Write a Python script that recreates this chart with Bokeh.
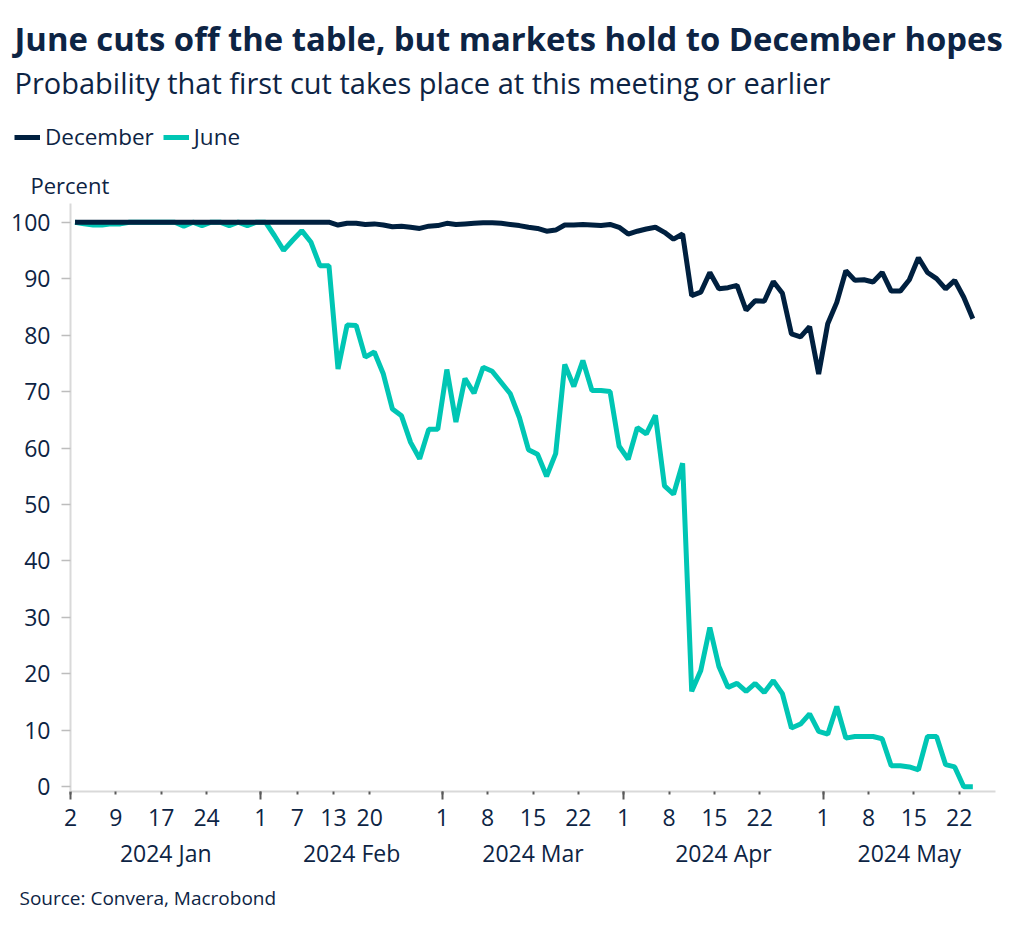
import pandas as pd
from bokeh.plotting import figure
from bokeh.models import Range1d, FixedTicker, LinearAxis, Legend, LegendItem, Label
from bokeh.embed import file_html
from bokeh.resources import INLINE

# ---------------- data ----------------
holidays = ["2024-01-15", "2024-02-19", "2024-03-29"]
trading_days = pd.bdate_range("2024-01-02", "2024-05-23", freq="C", holidays=holidays)

december = [
    100, 100, 100, 100, 100, 100, 100, 100, 100, 100,
    100, 100, 100, 100, 100, 100, 100, 100, 100, 100,
    100, 100, 100, 100, 100, 100, 100, 100, 100, 99.5,
    99.8, 99.8, 99.6, 99.7, 99.5, 99.2, 99.3, 99.1, 98.9, 99.3,
    99.4, 99.8, 99.6, 99.7, 99.8, 99.9, 99.9, 99.8, 99.6, 99.4,
    99.1, 98.9, 98.4, 98.6, 99.5, 99.5, 99.6, 99.5, 99.4, 99.6,
    99.1, 97.9, 98.4, 98.8, 99.1, 98.2, 97.0, 97.9, 87.0, 87.6,
    91.1, 88.2, 88.4, 88.8, 84.4, 86.1, 86.0, 89.5, 87.4, 80.2,
    79.7, 81.5, 73.1, 82.0, 85.8, 91.4, 89.7, 89.8, 89.4, 91.1,
    87.8, 87.8, 89.8, 93.7, 91.1, 90.0, 88.2, 89.7, 86.7, 82.9,
]

june = [
    100, 99.7, 99.5, 99.5, 99.7, 99.7, 100, 100, 100, 100,
    100, 100, 99.3, 100, 99.4, 100, 100, 99.4, 100, 99.4,
    100, 100, 97.6, 95.0, 96.8, 98.5, 96.5, 92.3, 92.3, 74.0,
    81.8, 81.7, 76.1, 77.0, 73.1, 66.9, 65.7, 61.0, 58.1, 63.3,
    63.3, 73.9, 64.6, 72.3, 69.7, 74.3, 73.6, 71.6, 69.6, 65.4,
    59.7, 58.9, 55.0, 59.0, 74.8, 70.9, 75.5, 70.2, 70.2, 70.0,
    60.3, 58.0, 63.6, 62.5, 65.8, 53.3, 51.8, 57.3, 16.9, 20.6,
    28.2, 21.3, 17.6, 18.3, 16.9, 18.3, 16.7, 18.8, 16.5, 10.4,
    11.1, 12.9, 9.8, 9.3, 14.2, 8.6, 8.9, 8.9, 8.9, 8.5,
    3.7, 3.7, 3.5, 3.0, 8.9, 8.9, 3.9, 3.5, 0.0, 0.0,
]

tick_days = [
    "2024-01-02", "2024-01-09", "2024-01-17", "2024-01-24",
    "2024-02-01", "2024-02-07", "2024-02-13", "2024-02-20",
    "2024-03-01", "2024-03-08", "2024-03-15", "2024-03-22",
    "2024-04-01", "2024-04-08", "2024-04-15", "2024-04-22",
    "2024-05-01", "2024-05-08", "2024-05-15", "2024-05-22",
]
month_starts = ["2024-01-02", "2024-02-01", "2024-03-01", "2024-04-01", "2024-05-01"]
month_labels = ["2024 Jan", "2024 Feb", "2024 Mar", "2024 Apr", "2024 May"]
y_ticks = [0, 10, 20, 30, 40, 50, 60, 70, 80, 90, 100]

# ---------------- layout / styling ----------------
NAVY_TEXT = "#0d2444"
DEC_COL = "#00203f"
JUN_COL = "#00c6b4"
FONT = "Open Sans"
W, H = 1010, 925

X0_PX = 70.0                 # pixel column of the first day slot
PX_PER_DAY = 925.0 / 102.0
Y0_PX = 786.2                # pixel row of 0 %
PX_PER_PCT = 5.645
Y_AXIS_LO, Y_AXIS_HI = -0.8, 103.26

pos = {d.strftime("%Y-%m-%d"): i for i, d in enumerate(trading_days)}
x = [i + 0.5 for i in range(len(trading_days))]
x_end = len(trading_days) + 2

tick_pos = [pos[d] for d in tick_days]
ms_pos = [pos[d] for d in month_starts]
month_centers = [(ms_pos[k] + (ms_pos[k + 1] if k + 1 < len(ms_pos) else x_end)) / 2
                 for k in range(len(ms_pos))]

p = figure(width=W, height=H, output_backend="svg", toolbar_location=None,
           title_location=None,
           x_range=Range1d(-X0_PX / PX_PER_DAY, (W - X0_PX) / PX_PER_DAY),
           y_range=Range1d(-(H - Y0_PX) / PX_PER_PCT, Y0_PX / PX_PER_PCT),
           x_axis_type=None, min_border=0, min_border_left=0, min_border_right=0,
           min_border_top=0, min_border_bottom=0)
p.outline_line_color = None
p.grid.visible = False
p.background_fill_color = "white"
p.border_fill_color = "white"

# y axis, drawn at the first day slot
ya = p.yaxis[0]
ya.fixed_location = 0
ya.bounds = (Y_AXIS_LO, Y_AXIS_HI)
ya.ticker = FixedTicker(ticks=y_ticks)
ya.axis_line_color = "#d9d9d9"
ya.axis_line_width = 2
ya.major_tick_out = 9
ya.major_tick_in = 0
ya.major_tick_line_color = "#bdbdbd"
ya.major_tick_line_width = 1.5
ya.minor_tick_line_color = None
ya.major_label_text_font = FONT
ya.major_label_text_font_size = "23px"
ya.major_label_text_color = NAVY_TEXT
ya.major_label_standoff = 11

# x axis with day numbers
xa = LinearAxis(ticker=FixedTicker(ticks=tick_pos, minor_ticks=ms_pos),
                major_label_overrides={t: str(int(d[-2:])) for t, d in zip(tick_pos, tick_days)},
                fixed_location=Y_AXIS_LO, bounds=(0, x_end))
xa.axis_line_color = "#d9d9d9"
xa.axis_line_width = 2
xa.major_tick_out = 3
xa.major_tick_in = 0
xa.minor_tick_out = 8
xa.minor_tick_in = 0
xa.major_tick_line_color = "#5a5a5a"
xa.minor_tick_line_color = "#5a5a5a"
xa.major_tick_line_width = 2
xa.minor_tick_line_width = 2
xa.major_label_text_font = FONT
xa.major_label_text_font_size = "23px"
xa.major_label_text_color = NAVY_TEXT
xa.major_label_standoff = 10
p.add_layout(xa, "below")

# x axis with month names
xm = LinearAxis(ticker=FixedTicker(ticks=month_centers, minor_ticks=[]),
                major_label_overrides={c: lab for c, lab in zip(month_centers, month_labels)},
                fixed_location=Y_AXIS_LO, bounds=(0, x_end))
xm.axis_line_color = None
xm.major_tick_line_color = None
xm.minor_tick_line_color = None
xm.major_tick_out = 0
xm.major_tick_in = 0
xm.major_label_text_font = FONT
xm.major_label_text_font_size = "23px"
xm.major_label_text_color = NAVY_TEXT
xm.major_label_standoff = 46
p.add_layout(xm, "below")

# series
r_jun = p.line(x, june, line_color=JUN_COL, line_width=5, line_join="bevel")
r_dec = p.line(x, december, line_color=DEC_COL, line_width=5, line_join="bevel")

# texts (screen units: x from left, y from bottom)
def add_text(txt, px, row, size, bold=False):
    p.add_layout(Label(x=px, y=H - row, x_units="screen", y_units="screen",
                       text=txt, text_font=FONT, text_font_size=size,
                       text_font_style="bold" if bold else "normal",
                       text_color=NAVY_TEXT, text_baseline="alphabetic", text_align="left"))

add_text("June cuts off the table, but markets hold to December hopes", 14, 38, "32.8px", True)
add_text("Probability that first cut takes place at this meeting or earlier", 14, 82, "29px")
add_text("Percent", 30, 184, "22px")
add_text("Source: Convera, Macrobond", 19, 897, "19px")

legend = Legend(items=[LegendItem(label="December", renderers=[r_dec]),
                       LegendItem(label="June", renderers=[r_jun])],
                orientation="horizontal", location=(14, H - 152),
                glyph_width=26, glyph_height=20, label_height=20, label_standoff=5,
                spacing=9, padding=0, margin=0, border_line_color=None,
                background_fill_alpha=0, label_text_font=FONT,
                label_text_font_size="22.5px", label_text_color=NAVY_TEXT)
p.add_layout(legend, "center")

open("out.html", "w").write(file_html(p, INLINE))
